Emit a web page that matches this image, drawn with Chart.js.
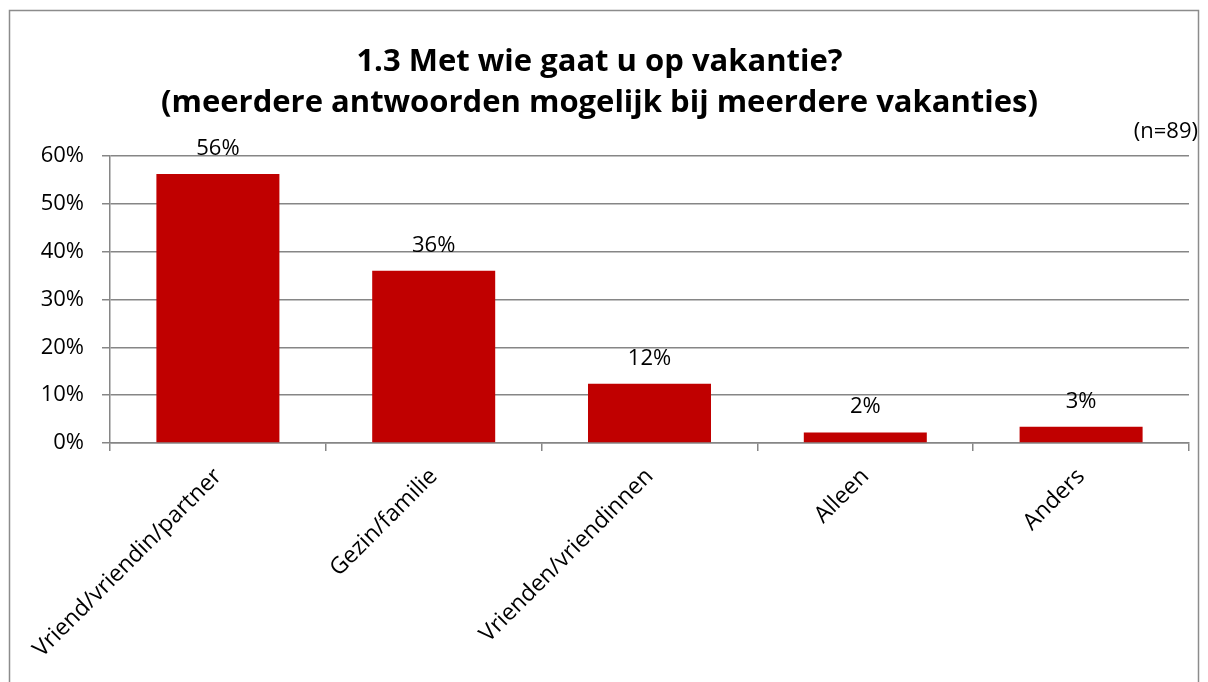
<!DOCTYPE html>
<html>
<head>
<meta charset="utf-8">
<script src="https://cdn.jsdelivr.net/npm/chart.js@4"></script>
<style>
  body { margin: 0; background: #fff; }
</style>
</head>
<body>
<canvas id="grafiek" width="1208" height="682"></canvas>
<script>
// gegevens
var categorieen = ["Vriend/vriendin/partner", "Gezin/familie", "Vrienden/vriendinnen", "Alleen", "Anders"];
var percentages = [56.2, 36.0, 12.4, 2.2, 3.4];
var labels = ["56%", "36%", "12%", "2%", "3%"];
var titel = ["1.3 Met wie gaat u op vakantie?", "(meerdere antwoorden mogelijk bij meerdere vakanties)"];
var aantal = "(n=89)";

var lettertype = "'Open Sans', sans-serif";
var grijs = "#868686";

// rand, n=89 en labels boven de balken
var extraTekst = {
  id: "extraTekst",
  afterDraw: function (chart) {
    var ctx = chart.ctx;
    ctx.save();
    ctx.strokeStyle = "#8c8c8c";
    ctx.lineWidth = 1.5;
    ctx.strokeRect(9.5, 10.5, 1189, 700);

    ctx.fillStyle = "#000";
    ctx.font = "22px " + lettertype;
    ctx.textAlign = "right";
    ctx.textBaseline = "middle";
    ctx.fillText(aantal, 1198, 132);

    ctx.textAlign = "center";
    ctx.textBaseline = "alphabetic";
    var meta = chart.getDatasetMeta(0);
    meta.data.forEach(function (balk, i) {
      ctx.fillText(labels[i], balk.x, balk.y - 19);
    });
    ctx.restore();
  }
};

new Chart(document.getElementById("grafiek"),
{
  type: "bar",
  data:
  {
    labels: categorieen,
    datasets:
    [{
      data: percentages,
      backgroundColor: "#C00000",
      barPercentage: 0.57,
      categoryPercentage: 1.0
    }]
  },
  options:
  {
    responsive: false,
    animation: false,
    layout: { padding: { left: 10, right: 19, top: 0, bottom: 0 } },
    plugins:
    {
      legend: { display: false },
      tooltip: { enabled: false },
      title:
      {
        display: true,
        text: titel,
        color: "#000",
        font: { family: lettertype, size: 31, weight: "bold", lineHeight: 1.32 },
        padding: { top: 42, bottom: 32 }
      }
    },
    scales:
    {
      x:
      {
        afterFit: function (schaal) { schaal.height = 239; },
        border: { color: grijs, width: 1.5 },
        grid: { display: true, drawOnChartArea: false, color: grijs, lineWidth: 1.5, tickLength: 8, offset: true },
        ticks: { color: "#000", font: { family: lettertype, size: 23 }, minRotation: 45, maxRotation: 45, padding: 12 }
      },
      y:
      {
        min: 0,
        max: 60,
        afterFit: function (schaal) { schaal.width = 100; },
        border: { color: grijs, width: 1.5 },
        grid: { color: grijs, lineWidth: 1.5, tickLength: 8 },
        ticks:
        {
          stepSize: 10,
          color: "#000",
          font: { family: lettertype, size: 22 },
          padding: 18,
          callback: function (waarde) { return waarde + "%"; }
        }
      }
    }
  },
  plugins: [extraTekst]
});
</script>
</body>
</html>
